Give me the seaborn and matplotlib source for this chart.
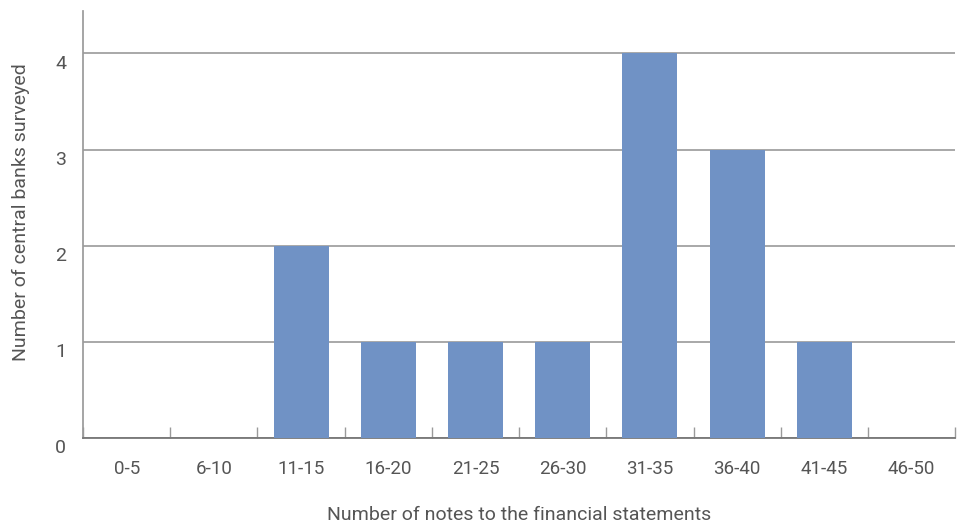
import numpy as np
import pandas as pd
import matplotlib
matplotlib.use("Agg")
import matplotlib.pyplot as plt
import matplotlib.transforms as mtransforms
import seaborn as sns

# Data
note_bins = ["0-5", "6-10", "11-15", "16-20", "21-25", "26-30",
             "31-35", "36-40", "41-45", "46-50"]
bank_counts = [0, 0, 2, 1, 1, 1, 4, 3, 1, 0]
y_ticks = [0, 1, 2, 3, 4]

df = pd.DataFrame({"bin": note_bins, "count": bank_counts})

sns.set_theme(style="white")
plt.rcParams["font.family"] = ["Roboto", "DejaVu Sans"]

text_color = "#555555"
bar_color = "#7092c5"
grid_color = "#9a9a9a"

fig = plt.figure(figsize=(9.6, 5.3), dpi=100)
ax = fig.add_axes([0.0865, 0.1736, 0.9085, 0.8054])

sns.barplot(data=df, x="bin", y="count", color=bar_color, saturation=1,
            width=0.63, edgecolor="none", linewidth=0, ax=ax, zorder=3)

ax.set_xlim(-0.5, len(note_bins) - 0.5)
ax.set_ylim(0, 4.44)
ax.set_yticks(y_ticks)
ax.yaxis.grid(True, color=grid_color, linewidth=1.2, zorder=0)
ax.xaxis.grid(False)

for side in ["top", "right"]:
    ax.spines[side].set_visible(False)
ax.spines["left"].set_color(grid_color)
ax.spines["bottom"].set_color("#777777")
ax.spines["bottom"].set_linewidth(1.3)

# separator ticks between categories
ax.set_xticks(np.arange(-0.5, len(note_bins)), minor=True)
ax.tick_params(axis="x", which="minor", direction="in", length=8,
               width=1, color=grid_color, bottom=True)
ax.tick_params(axis="x", which="major", length=0, pad=16,
               labelsize=13.5, labelcolor=text_color)
ax.tick_params(axis="y", length=0, pad=12, labelsize=14,
               labelcolor=text_color)

offset = mtransforms.ScaledTranslation(0, -6 / 72, fig.dpi_scale_trans)
for lbl in ax.get_yticklabels():
    lbl.set_transform(lbl.get_transform() + offset)

ax.set_xlabel("Number of notes to the financial statements", fontsize=14,
              color=text_color, labelpad=20)
ax.set_ylabel("Number of central banks surveyed", fontsize=14,
              color=text_color)
ax.yaxis.set_label_coords(-0.061, 0.53)

fig.savefig("out.png", dpi=100)
